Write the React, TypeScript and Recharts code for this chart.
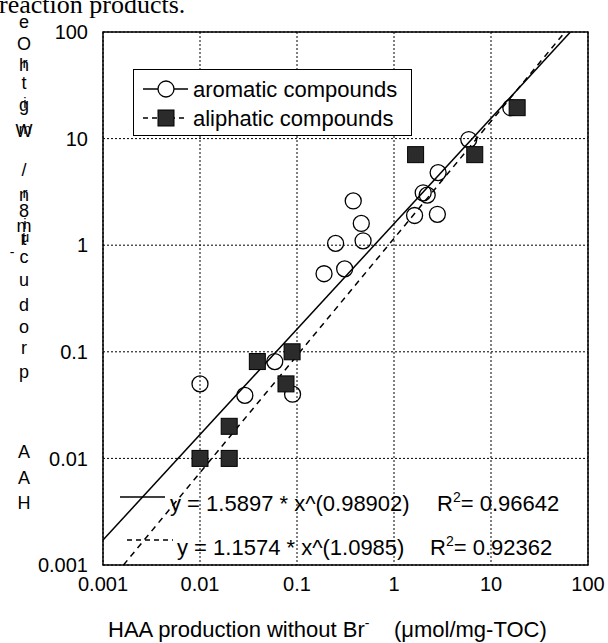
import React from "react"
import {
  ScatterChart,
  Scatter,
  XAxis,
  YAxis,
  CartesianGrid,
  ReferenceLine,
  ReferenceArea,
  Legend,
} from "recharts"

// aromatic compounds (open circles)
const aromaticX = [0.01, 0.029, 0.059, 0.09, 0.19, 0.25, 0.31, 0.38, 0.46, 0.48, 1.63, 2.0, 2.2, 2.8, 2.85, 5.9, 16]
const aromaticY = [0.05, 0.039, 0.081, 0.04, 0.54, 1.04, 0.6, 2.6, 1.6, 1.1, 1.9, 3.1, 2.95, 1.95, 4.8, 9.8, 19.5]

// aliphatic compounds (filled squares)
const aliphaticX = [0.01, 0.02, 0.02, 0.039, 0.077, 0.089, 1.67, 6.8, 18.6]
const aliphaticY = [0.01, 0.01, 0.02, 0.081, 0.05, 0.1, 7.07, 7.07, 19.5]

const ticks = [0.001, 0.01, 0.1, 1, 10, 100]
const tickLabels = ["0.001", "0.01", "0.1", "1", "10", "100"]

// power-law fits printed on the chart
const fitAromatic = { a: 1.5897, b: 0.98902, eq: "y = 1.5897 * x^(0.98902)", r2: "0.96642" }
const fitAliphatic = { a: 1.1574, b: 1.0985, eq: "y = 1.1574 * x^(1.0985)", r2: "0.92362" }

// garbled vertical y title, glyphs stacked top to bottom (second glyph is printed over the first)
const yTitleGlyphs = [
  ["e", ""], ["O", ""], ["h", "r"], ["t", ""], ["g", "i"], ["W", "m"], ["/", ""], ["n", "r"],
  ["8", ""], ["m", "i"], ["t", "μ"], ["c", ""], ["u", ""], ["d", ""], ["o", ""], ["r", ""],
  ["p", ""], ["A", ""], ["A", ""], ["H", ""],
]
const yTitleRows = [22, 44, 65, 83, 105, 131, 170, 195, 211, 226, 239, 257, 280, 305, 327, 348, 372, 452, 478, 503]

const FONT = "'Liberation Sans', Arial, sans-serif"
const DOMAIN: [number, number] = [0.001, 100]

const aromaticData = aromaticX.map((x, i) => ({ x, y: aromaticY[i] }))
const aliphaticData = aliphaticX.map((x, i) => ({ x, y: aliphaticY[i] }))

function fitSegment(a: number, b: number) {
  const [lo, hi] = DOMAIN
  const x0 = Math.max(lo, Math.pow(lo / a, 1 / b))
  const x1 = Math.min(hi, Math.pow(hi / a, 1 / b))
  return [
    { x: x0, y: a * Math.pow(x0, b) },
    { x: x1, y: a * Math.pow(x1, b) },
  ]
}

const OpenCircle = (props: any) => (
  <circle cx={props.cx} cy={props.cy} r={8} fill="none" stroke="#000" strokeWidth={1.3} />
)

const FilledSquare = (props: any) => (
  <rect x={props.cx - 8} y={props.cy - 8} width={16} height={16} fill="#2b2b2b" stroke="#000" strokeWidth={1} />
)

function LegendBox() {
  return (
    <svg width={280} height={68} style={{ display: "block" }}>
      <rect x={0.5} y={0.5} width={278} height={66} fill="#fff" stroke="#000" strokeWidth={1} />
      <line x1={10} x2={55} y1={20} y2={20} stroke="#000" strokeWidth={1.3} />
      <circle cx={33} cy={20} r={8} fill="#fff" stroke="#000" strokeWidth={1.3} />
      <text x={60} y={28} fontSize={22} fontFamily={FONT}>aromatic compounds</text>
      <line x1={10} x2={55} y1={49} y2={49} stroke="#000" strokeWidth={1.3} strokeDasharray="5 4" />
      <rect x={25} y={41} width={16} height={16} fill="#2b2b2b" stroke="#000" />
      <text x={60} y={57} fontSize={22} fontFamily={FONT}>aliphatic compounds</text>
    </svg>
  )
}

export default function App() {
  const fmt = (_v: number, i: number) => tickLabels[i] ?? String(_v)
  return (
    <div style={{ position: "absolute", left: 0, top: 0, width: 608, height: 643, background: "#fff" }}>
      <ScatterChart width={608} height={643} margin={{ top: 32, right: 20, bottom: 0, left: 0 }}>
        <CartesianGrid stroke="#000" strokeDasharray="2 2" strokeWidth={1} />
        <XAxis
          type="number"
          dataKey="x"
          scale="log"
          domain={DOMAIN}
          ticks={ticks}
          tickFormatter={fmt}
          allowDataOverflow
          height={78}
          tickLine={false}
          axisLine={false}
          tickSize={6}
          tickMargin={6}
          tick={{ fill: "#000", fontSize: 20, fontFamily: FONT }}
        />
        <YAxis
          type="number"
          dataKey="y"
          scale="log"
          domain={DOMAIN}
          ticks={ticks}
          tickFormatter={fmt}
          allowDataOverflow
          width={103}
          tickLine={false}
          axisLine={false}
          tickSize={6}
          tickMargin={9}
          tick={{ fill: "#000", fontSize: 20, fontFamily: FONT }}
        />
        <ReferenceArea x1={DOMAIN[0]} x2={DOMAIN[1]} y1={DOMAIN[0]} y2={DOMAIN[1]} fill="none" stroke="#000" strokeWidth={1.5} ifOverflow="visible" />
        <ReferenceLine segment={fitSegment(fitAromatic.a, fitAromatic.b)} stroke="#000" strokeWidth={1.5} ifOverflow="visible" />
        <ReferenceLine segment={fitSegment(fitAliphatic.a, fitAliphatic.b)} stroke="#000" strokeWidth={1.5} strokeDasharray="6 5" ifOverflow="visible" />
        <Scatter name="aromatic compounds" data={aromaticData} shape={OpenCircle} isAnimationActive={false} />
        <Scatter name="aliphatic compounds" data={aliphaticData} shape={FilledSquare} isAnimationActive={false} />
        <Legend
          layout="vertical"
          align="center"
          verticalAlign="middle"
          content={() => <LegendBox />}
          wrapperStyle={{ position: "absolute", left: 133, top: 69, width: 280, height: 68 }}
        />
      </ScatterChart>

      <svg width={608} height={643} style={{ position: "absolute", left: 0, top: 0, pointerEvents: "none" }}>
        <text x={-1} y={13} fontSize={26} fontFamily="'Liberation Serif', 'Times New Roman', serif">reaction products.</text>

        <text fontSize={18} fontFamily={FONT} textAnchor="middle">
          {yTitleGlyphs.map(([g, over], i) => (
            <React.Fragment key={i}>
              <tspan x={24} y={yTitleRows[i] + 6}>{g}</tspan>
              {over && <tspan x={25} y={yTitleRows[i] + 3} fontSize={15}>{over}</tspan>}
            </React.Fragment>
          ))}
          <tspan x={12} y={257} fontSize={14}>-</tspan>
        </text>

        <line x1={120} x2={165} y1={497} y2={497} stroke="#000" strokeWidth={1.3} />
        <text x={170} y={511} fontSize={22} fontFamily={FONT}>{fitAromatic.eq}</text>
        <text x={437} y={511} fontSize={22} fontFamily={FONT}>
          R<tspan dy={-9} fontSize={14}>2</tspan><tspan dy={9}>= {fitAromatic.r2}</tspan>
        </text>

        <line x1={127} x2={173} y1={540} y2={540} stroke="#000" strokeWidth={1.3} strokeDasharray="5 4" />
        <text x={177} y={555} fontSize={22} fontFamily={FONT}>{fitAliphatic.eq}</text>
        <text x={430} y={555} fontSize={22} fontFamily={FONT}>
          R<tspan dy={-9} fontSize={14}>2</tspan><tspan dy={9}>= {fitAliphatic.r2}</tspan>
        </text>

        <text x={108} y={637} fontSize={22} fontFamily={FONT} style={{ whiteSpace: "pre" }}>
          HAA production without Br<tspan dy={-9} fontSize={14}>-</tspan><tspan dy={9}>{"    (μmol/mg-TOC)"}</tspan>
        </text>
      </svg>
    </div>
  )
}
